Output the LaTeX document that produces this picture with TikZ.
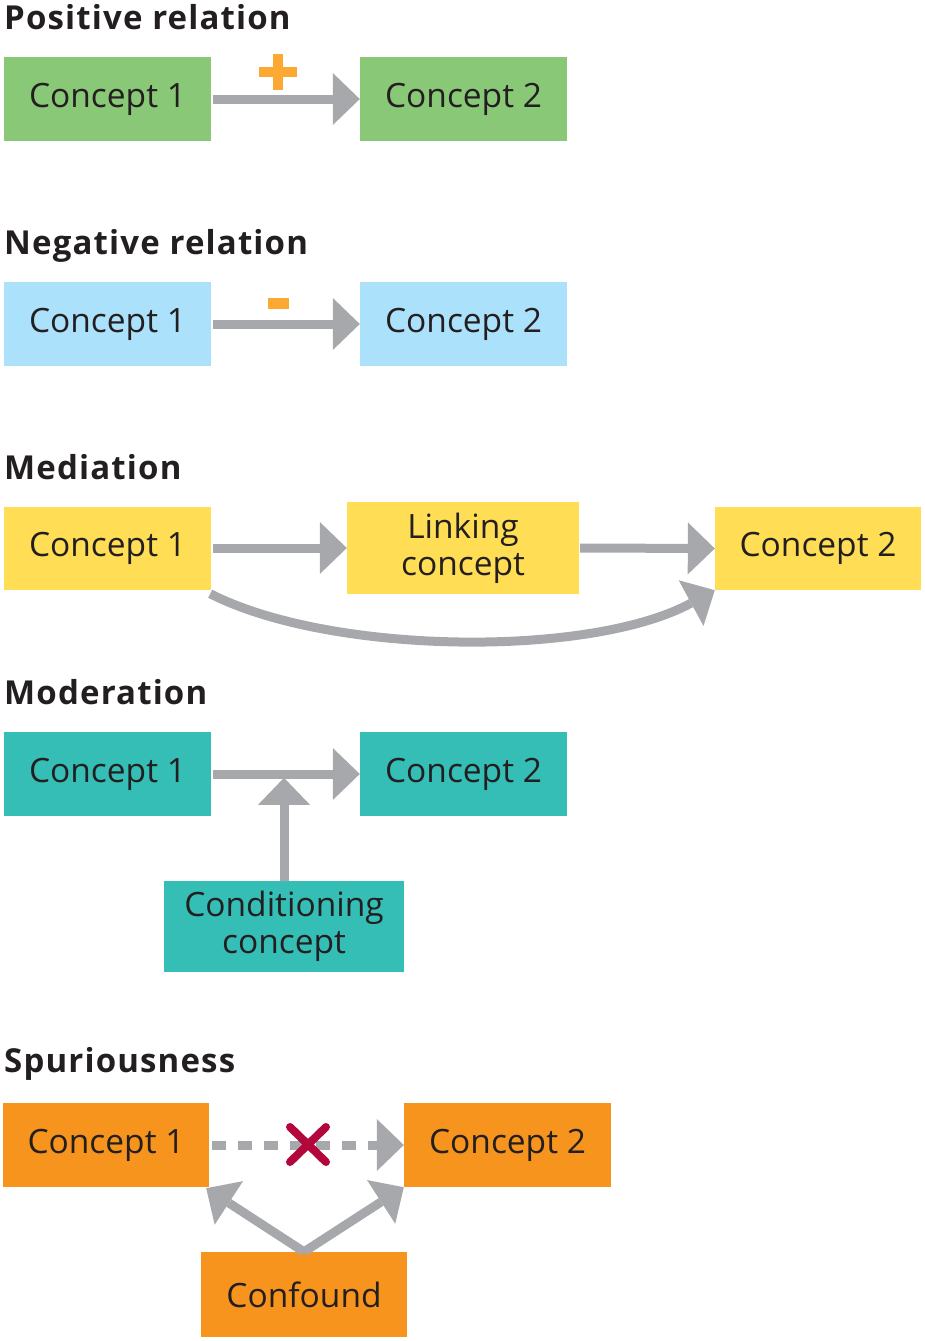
\documentclass[tikz,border=0pt]{standalone}
\usepackage{fontspec}
\setmainfont{Open Sans}
\newfontfamily\ttlfont{Open Sans}[LetterSpace=3.5]
\usetikzlibrary{arrows.meta}
\definecolor{txt}{HTML}{231F20}
\definecolor{cgreen}{HTML}{89C877}
\definecolor{cblue}{HTML}{ABE1FA}
\definecolor{cyellow}{HTML}{FFDD55}
\definecolor{cteal}{HTML}{35BEB6}
\definecolor{corange}{HTML}{F7941D}
\definecolor{arrgray}{HTML}{A7A8AB}
\definecolor{signorange}{HTML}{FBA933}
\definecolor{xred}{HTML}{B3063B}
\begin{document}
\begin{tikzpicture}[x=1pt,y=-1pt,
  box/.style={rectangle, inner sep=0pt, minimum width=207pt, minimum height=84pt,
    text=txt, font=\fontsize{33.5}{37}\selectfont, align=center},
  arr/.style={draw=arrgray, line width=9pt,
    -{Triangle[length=27pt,width=52pt,line width=0pt]}},
  dasharr/.style={arr, dash pattern=on 14pt off 12pt},
  ttl/.style={anchor=base west, inner sep=0pt, text=txt,
    font=\fontsize{33}{37}\selectfont\ttlfont\bfseries}]
\useasboundingbox (0,0) rectangle (925,1341);

% Positive relation
\node[ttl] (t1) at (4,29) {Positive relation};
\node[box, fill=cgreen] (p1) at (107.5,99) {Concept 1};
\node[box, fill=cgreen] (p2) at (463.5,99) {Concept 2};
\draw[arr] ([xshift=2pt]p1.east) -- (p2.west);
\fill[signorange] (259,67) rectangle (297,77);
\fill[signorange] (273,54) rectangle (283,90);

% Negative relation
\node[ttl] (t2) at (4,254) {Negative relation};
\node[box, fill=cblue] (n1) at (107.5,324) {Concept 1};
\node[box, fill=cblue] (n2) at (463.5,324) {Concept 2};
\draw[arr] ([xshift=2pt]n1.east) -- (n2.west);
\fill[signorange] (268,298) rectangle (289,309);

% Mediation
\node[ttl] (t3) at (4,479) {Mediation};
\node[box, fill=cyellow, minimum height=83pt] (m1) at (107.5,548) {Concept 1};
\node[box, fill=cyellow, minimum width=232pt, minimum height=92pt] (m2) at (463,548) {Linking\\concept};
\node[box, fill=cyellow, minimum width=206pt, minimum height=83pt] (m3) at (818,548.5) {Concept 2};
\draw[arr] ([xshift=2pt]m1.east) -- (m2.west);
\draw[arr] ([xshift=1pt]m2.east) -- (m3.west);
\draw[arr] ([shift={(-1,4)}]m1.south east) .. controls (330,655) and (590,658) .. (m3.south west);

% Moderation
\node[ttl] (t4) at (4,704) {Moderation};
\node[box, fill=cteal] (o1) at (107.5,774) {Concept 1};
\node[box, fill=cteal] (o2) at (463.5,774) {Concept 2};
\node[box, fill=cteal, minimum width=240pt, minimum height=91pt] (o3) at (284,926.5) {Conditioning\\concept};
\draw[arr] ([xshift=2pt]o1.east) -- (o2.west);
\draw[arr] (o3.north) -- ++(0,-103);

% Spuriousness
\node[ttl] (t5) at (4,1072) {Spuriousness};
\node[box, fill=corange, minimum width=206pt] (s1) at (106,1145) {Concept 1};
\node[box, fill=corange] (s2) at (507.5,1145) {Concept 2};
\node[box, fill=corange, minimum width=206pt, minimum height=85pt] (s3) at (304,1294.5) {Confound};
\draw[dasharr] ([xshift=3pt]s1.east) -- (s2.west);
\draw[xred, line width=8pt, line cap=round] (290,1127) -- (326,1162) (326,1127) -- (290,1162);
\draw[arr] (s3.north) -- ([shift={(-3,1)}]s1.south east);
\draw[arr] (s3.north) -- (s2.south west);
\end{tikzpicture}
\end{document}
